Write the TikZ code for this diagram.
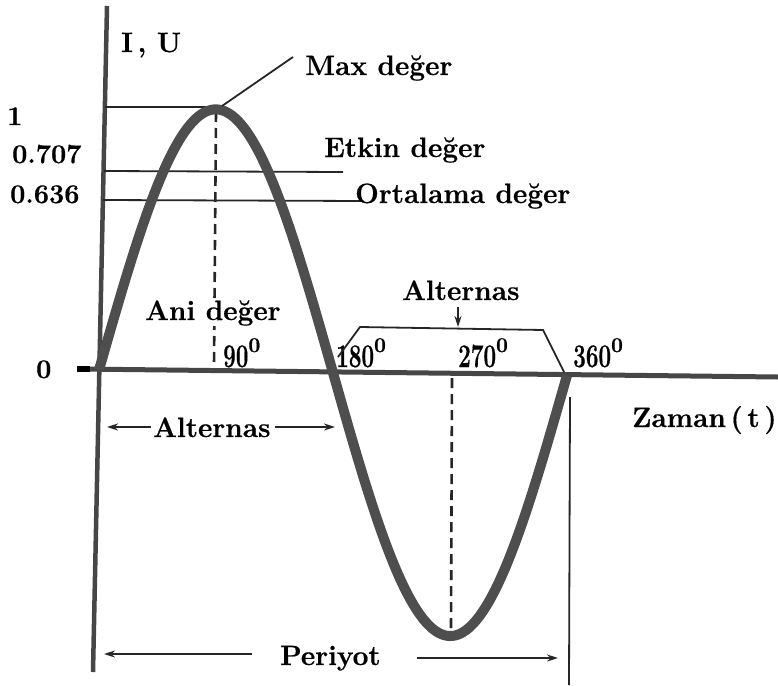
\documentclass[tikz,border=0pt]{standalone}
\usepackage{fontspec}
\setmainfont{Latin Modern Roman}[BoldFeatures={FakeBold=0.6}]
\usetikzlibrary{arrows.meta}
\definecolor{wavegray}{RGB}{78,78,78}
\definecolor{axisgray}{RGB}{70,70,70}
\newcommand\angtxt[1]{\scalebox{0.68}[1]{#1}\raisebox{15pt}{\fontsize{21}{21}\selectfont 0}}
\tikzset{
  lbl/.style={font=\fontsize{28}{30}\selectfont\bfseries, inner sep=0pt, anchor=base west},
  numlbl/.style={font=\fontsize{27}{30}\selectfont\bfseries, inner sep=0pt, anchor=base west},
  anglbl/.style={font=\fontsize{33}{33}\selectfont\bfseries, inner sep=0pt, anchor=base west},
  wave/.style={line width=10pt, draw=wavegray, line join=round},
  axisline/.style={draw=axisgray},
  thinl/.style={line width=1.8pt, draw=black!85},
  dashl/.style={line width=2.6pt, draw=black!85, dash pattern=on 10pt off 6pt},
  arr/.style={line width=1.8pt, draw=black!85, -{Stealth[length=11pt,width=7pt]}},
}
\begin{document}
\begin{tikzpicture}[x=1pt,y=-1pt]
\useasboundingbox (0,0) rectangle (778,685);
% axes
\coordinate (vtop) at (107,6);
\coordinate (vbot) at (93,672);
\coordinate (hleft) at (80,369);
\coordinate (hright) at (778,377);
\draw[axisline, line width=4.5pt] (vtop) -- (vbot);
\draw[axisline, line width=5pt] (hleft) -- (hright);
\coordinate (tickl) at (77,369);
\coordinate (tickr) at (90,369);
\draw[line width=6pt, black] (tickl) -- (tickr);
% reference lines
\coordinate (m0) at (105,107); \coordinate (m1) at (220,107);
\coordinate (e0) at (104,171); \coordinate (e1) at (343,172);
\coordinate (o0) at (103,200); \coordinate (o1) at (363,201);
\draw[thinl] (m0) -- (m1);
\draw[thinl] (e0) -- (e1);
\draw[thinl] (o0) -- (o1);
% dashed verticals
\coordinate (d90t) at (216,112); \coordinate (d90b) at (214,366);
\coordinate (d270t) at (452,378); \coordinate (d270b) at (451,630);
\draw[dashl] (d90t) -- (d90b);
\draw[dashl] (d270t) -- (d270b);
% sine wave
\draw[wave] plot[domain=0:360, samples=180, smooth] ({99+1.3*\x}, {370+0.01495*\x-262*sin(\x)});
% max leader
\coordinate (peak) at (222,106);
\coordinate (maxend) at (293,57);
\draw[thinl] (peak) -- (maxend);
% labels
\node[lbl] (iu) at (121,52) {I\,, U};
\node[lbl] (maxl) at (305,75) {Max değer};
\node[lbl] (etk) at (324,157) {Etkin değer};
\node[lbl] (ort) at (355,203) {Ortalama değer};
\node[numlbl] (one) at (7,125) {1};
\node[numlbl] (v707) at (12,163) {0.707};
\node[numlbl] (v636) at (10,203) {0.636};
\node[numlbl] (zero) at (36,378) {0};
\node[lbl, fill=white] (ani) at (145,320) {Ani değer};
\node[anglbl] (a90) at (223,367) {\angtxt{90}};
\node[anglbl] (a180) at (336,367) {\angtxt{180}};
\node[anglbl] (a270) at (458,367) {\angtxt{270}};
\node[anglbl] (a360) at (573,367) {\angtxt{360}};
% upper alternas bracket
\coordinate (t1) at (338,357); \coordinate (t2) at (360,327);
\coordinate (t3) at (543,330); \coordinate (t4) at (564,372);
\draw[thinl] (t1) -- (t2) -- (t3) -- (t4);
\node[lbl] (alt2) at (402,300) {Alternas};
\coordinate (alt2tip) at (458,327);
\coordinate (alt2src) at (458,307);
\draw[arr] (alt2src) -- (alt2tip);
% lower alternas
\node[lbl] (alt1) at (153,437) {Alternas};
\coordinate (al1) at (107,427); \coordinate (al1s) at (151,427);
\coordinate (ar1s) at (275,427); \coordinate (ar1) at (335,427);
\draw[arr] (al1s) -- (al1);
\draw[arr] (ar1s) -- (ar1);
% zaman
\node[lbl] (zaman) at (632,427) {Zaman\,(\,t\,)};
% period marker
\coordinate (pv0) at (570,397); \coordinate (pv1) at (569,685);
\draw[thinl] (pv0) -- (pv1);
\node[lbl] (per) at (280,665) {Periyot};
\coordinate (pl) at (104,654); \coordinate (pls) at (252,654);
\coordinate (prs) at (417,658); \coordinate (pr) at (558,658);
\draw[arr] (pls) -- (pl);
\draw[arr] (prs) -- (pr);
\end{tikzpicture}
\end{document}
